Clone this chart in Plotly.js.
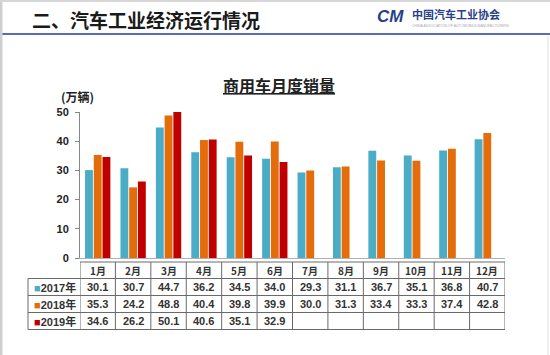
<!DOCTYPE html>
<html>
<head>
<meta charset="utf-8">
<script src="https://cdn.plot.ly/plotly-3.0.1.min.js"></script>
<style>html,body{margin:0;padding:0;background:#fff;}#chart{width:550px;height:355px;}</style>
</head>
<body>
<div id="chart"></div>
<script>
const months = ["1月","2月","3月","4月","5月","6月","7月","8月","9月","10月","11月","12月"];
const seriesNames = ["2017年","2018年","2019年"];
const sales2017 = [30.1,30.7,44.7,36.2,34.5,34.0,29.3,31.1,36.7,35.1,36.8,40.7];
const sales2018 = [35.3,24.2,48.8,40.4,39.8,39.9,30.0,31.3,33.4,33.3,37.4,42.8];
const sales2019 = [34.6,26.2,50.1,40.6,35.1,32.9,null,null,null,null,null,null];
const colors = ["#4BACC6","#E46C0A","#C00000"];

const W = 550, H = 355, L = 80, R = 45, T = 112, B = 97;
const pw = W - L - R, ph = H - T - B;
const px = x => (x - L) / pw;
const py = y => (H - B - y) / ph;

const allSeries = [sales2017, sales2018, sales2019];
const traces = allSeries.map((vals, i) => ({
  type: "bar", x: months, y: vals, name: seriesNames[i],
  marker: {color: colors[i]}, hoverinfo: "x+y+name"
}));

const annotations = [];
const shapes = [];
const fontNum = {family: "Liberation Sans, Arial", size: 11, color: "#333", weight: "bold"};

// table geometry (pixel rows)
const rowTops = [262, 278.5, 295.5, 312.5, 329.5];
const leftX = 28;
const gridColor = "#6a6a6a";

// header row: months
months.forEach((m, i) => {
  annotations.push({xref: "x", yref: "paper", x: i, y: py((rowTops[0] + rowTops[1]) / 2),
    text: "<b>" + m + "</b>", showarrow: false, font: {family: "Noto Sans CJK SC", size: 10, color: "#333"},
    xanchor: "center", yanchor: "middle"});
});
// data rows
allSeries.forEach((vals, r) => {
  const yc = py((rowTops[r + 1] + rowTops[r + 2]) / 2);
  annotations.push({xref: "paper", yref: "paper", x: px((leftX + L) / 2 + 1), y: yc,
    text: '<span style="color:' + colors[r] + '">■</span><b>' + seriesNames[r].slice(0, 4) + '</b><b>' + seriesNames[r].slice(4) + '</b>',
    showarrow: false, font: {family: "Liberation Sans, Noto Sans CJK SC", size: 11, color: "#333"},
    xanchor: "center", yanchor: "middle"});
  vals.forEach((v, i) => {
    if (v === null) return;
    annotations.push({xref: "x", yref: "paper", x: i, y: yc, text: v.toFixed(1),
      showarrow: false, font: fontNum, xanchor: "center", yanchor: "middle"});
  });
});

// grid: verticals for month columns
for (let i = 0; i <= months.length; i++) {
  shapes.push({type: "line", xref: "x", yref: "paper", x0: i - 0.5, x1: i - 0.5,
    y0: py(rowTops[0]), y1: py(rowTops[4]), line: {color: gridColor, width: 1}});
}
// left column verticals
shapes.push({type: "line", xref: "paper", yref: "paper", x0: px(leftX), x1: px(leftX),
  y0: py(rowTops[1]), y1: py(rowTops[4]), line: {color: gridColor, width: 1}});
// horizontals
shapes.push({type: "line", xref: "paper", yref: "paper", x0: 0, x1: 1,
  y0: py(rowTops[0]), y1: py(rowTops[0]), line: {color: gridColor, width: 1}});
for (let r = 1; r <= 4; r++) {
  shapes.push({type: "line", xref: "paper", yref: "paper", x0: px(leftX), x1: 1,
    y0: py(rowTops[r]), y1: py(rowTops[r]), line: {color: gridColor, width: 1}});
}

// slide decorations
shapes.push({type: "line", xref: "paper", yref: "paper", x0: px(0), x1: px(550), y0: py(34), y1: py(34),
  line: {color: "#5a6cb8", width: 2}});
shapes.push({type: "line", xref: "paper", yref: "paper", x0: px(1), x1: px(1), y0: py(0), y1: py(355),
  line: {color: "#cfcfcf", width: 3}});
shapes.push({type: "line", xref: "paper", yref: "paper", x0: px(0), x1: px(550), y0: py(1), y1: py(1),
  line: {color: "#d6d6d6", width: 2}});
shapes.push({type: "line", xref: "paper", yref: "paper", x0: px(548), x1: px(548), y0: py(36), y1: py(355),
  line: {color: "#e0e0e0", width: 1}});

// texts
annotations.push({xref: "paper", yref: "paper", x: px(30), y: py(20), xanchor: "left", yanchor: "middle",
  text: "<b>二、汽车工业经济运行情况</b>", showarrow: false,
  font: {family: "Noto Sans CJK SC", size: 19, color: "#1a1a1a"}});
annotations.push({xref: "paper", yref: "paper", x: px(390), y: py(16), xanchor: "center", yanchor: "middle",
  text: "<b><i>CM</i></b>", showarrow: false,
  font: {family: "Liberation Sans, Arial", size: 17, color: "#2a3f8a"}});
annotations.push({xref: "paper", yref: "paper", x: px(410), y: py(14), xanchor: "left", yanchor: "middle",
  text: "<b>中国汽车工业协会</b>", showarrow: false,
  font: {family: "Noto Sans CJK SC", size: 11, color: "#2a3f8a"}});
annotations.push({xref: "paper", yref: "paper", x: px(410), y: py(26), xanchor: "left", yanchor: "middle",
  text: "CHINA ASSOCIATION OF AUTOMOBILE MANUFACTURERS", showarrow: false,
  font: {family: "Liberation Sans, Arial", size: 3.5, color: "#aaa"}});
annotations.push({xref: "paper", yref: "paper", x: px(279), y: py(85), xanchor: "center", yanchor: "middle",
  text: "<b><u>商用车月度销量</u></b>", showarrow: false,
  font: {family: "Noto Sans CJK SC", size: 16, color: "#222"}});
annotations.push({xref: "paper", yref: "paper", x: px(77), y: py(96), xanchor: "center", yanchor: "middle",
  text: "<b>(万辆)</b>", showarrow: false,
  font: {family: "Noto Sans CJK SC", size: 12, color: "#222"}});

const layout = {
  width: W, height: H,
  margin: {l: L, r: R, t: T, b: B, pad: 0},
  paper_bgcolor: "#fff", plot_bgcolor: "#fff",
  showlegend: false,
  barmode: "group", bargap: 0.26, bargroupgap: 0.1,
  xaxis: {type: "category", range: [-0.5, 11.5], showticklabels: false, ticks: "",
    showline: true, linecolor: "#b0b0b0", linewidth: 1, showgrid: false, zeroline: false, fixedrange: true},
  yaxis: {range: [0, 50], dtick: 10, tick0: 0, showgrid: false, zeroline: false,
    showline: true, linecolor: "#888", linewidth: 1, ticks: "outside", ticklen: 4, tickcolor: "#888",
    tickfont: {family: "Liberation Sans, Arial", size: 11, color: "#222", weight: "bold"}, ticklabelstandoff: 4},
  annotations: annotations,
  shapes: shapes
};

Plotly.newPlot("chart", traces, layout, {displayModeBar: false, staticPlot: true});
</script>
</body>
</html>
